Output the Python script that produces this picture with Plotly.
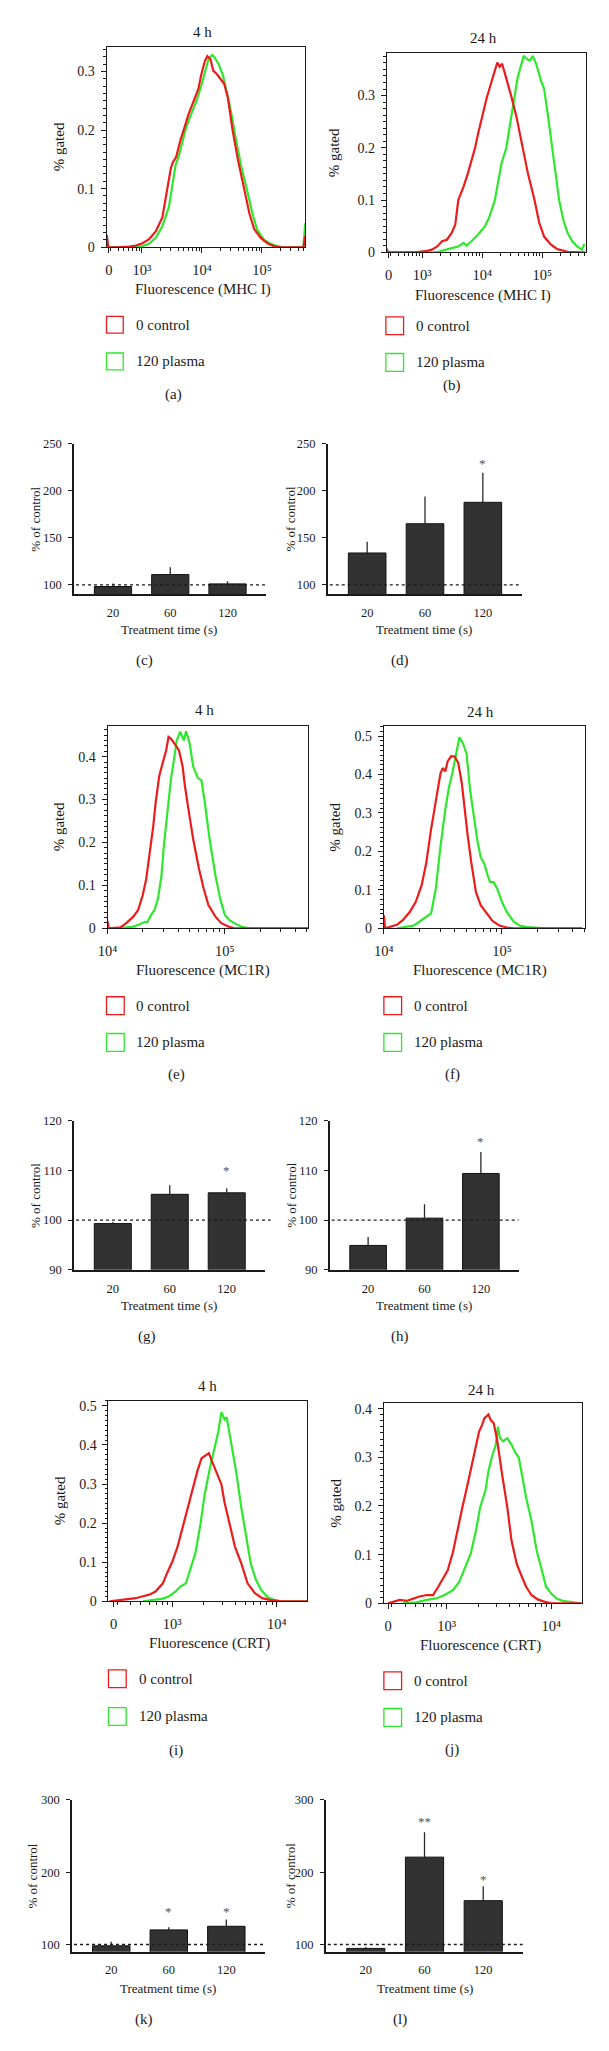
import numpy as np
import plotly.graph_objects as go

W, H = 609, 2051
FONT = "Liberation Serif"
INK = "#1a1a1a"
RED = "#ec1c1c"
GREEN = "#2ee82e"

# ---------------- histogram data: x = log10(fluorescence), y = fraction gated
# (a) MHC I, 4 h
a_ctrl_e = [2.415, 2.44, 2.57, 2.79, 2.90, 3.01, 3.12, 3.23, 3.34, 3.42, 3.48, 3.51, 3.57, 3.64, 3.69, 3.78,
            3.86, 3.94, 3.99, 4.05, 4.09, 4.14, 4.19, 4.25, 4.31, 4.37, 4.43, 4.51, 4.60, 4.70, 4.79, 4.87,
            4.98, 5.09, 5.20, 5.31, 5.69, 5.72]
a_ctrl_y = [0.021, 0, 0, 0.001, 0.003, 0.007, 0.014, 0.027, 0.051, 0.100, 0.134, 0.144, 0.154, 0.182, 0.200, 0.228,
            0.249, 0.270, 0.295, 0.318, 0.326, 0.321, 0.301, 0.295, 0.287, 0.279, 0.256, 0.200, 0.149, 0.100, 0.058, 0.031,
            0.016, 0.007, 0.002, 0, 0, 0.019]
a_pls_e = [2.44, 2.79, 3.01, 3.12, 3.23, 3.34, 3.45, 3.50, 3.56, 3.61, 3.67, 3.73, 3.80, 3.91, 3.99, 4.06,
           4.11, 4.17, 4.21, 4.28, 4.35, 4.42, 4.49, 4.57, 4.65, 4.75, 4.84, 4.92, 5.03, 5.14, 5.25, 5.36, 5.69, 5.72]
a_pls_y = [0, 0, 0.002, 0.006, 0.016, 0.036, 0.069, 0.098, 0.140, 0.154, 0.180, 0.202, 0.222, 0.250, 0.276, 0.301,
           0.321, 0.328, 0.324, 0.312, 0.293, 0.262, 0.228, 0.182, 0.140, 0.098, 0.058, 0.030, 0.013, 0.006, 0.002, 0, 0, 0.041]

# (b) MHC I, 24 h
b_ctrl_e = [2.40, 2.43, 2.89, 3.05, 3.16, 3.25, 3.33, 3.41, 3.49, 3.55, 3.60, 3.69, 3.76, 3.82, 3.88, 3.93,
            4.02, 4.07, 4.15, 4.21, 4.25, 4.29, 4.33, 4.38, 4.44, 4.48, 4.57, 4.68, 4.76, 4.87, 4.95, 5.03,
            5.14, 5.25, 5.42, 5.64, 5.71]
b_ctrl_y = [0.008, 0, 0, 0.002, 0.005, 0.011, 0.021, 0.024, 0.037, 0.053, 0.100, 0.126, 0.151, 0.176, 0.200, 0.227,
            0.271, 0.294, 0.325, 0.351, 0.363, 0.355, 0.361, 0.341, 0.319, 0.300, 0.259, 0.200, 0.151, 0.100, 0.056, 0.030,
            0.015, 0.006, 0.001, 0, 0]
b_pls_e = [2.43, 3.22, 3.30, 3.38, 3.49, 3.60, 3.69, 3.74, 3.82, 3.93, 4.04, 4.11, 4.21, 4.26, 4.32, 4.40,
           4.47, 4.54, 4.59, 4.65, 4.69, 4.74, 4.79, 4.84, 4.90, 4.98, 5.03, 5.09, 5.15, 5.21, 5.28, 5.35,
           5.42, 5.50, 5.58, 5.66, 5.70]
b_pls_y = [0, 0, 0.002, 0.005, 0.008, 0.011, 0.018, 0.013, 0.021, 0.034, 0.049, 0.065, 0.100, 0.132, 0.170, 0.200,
           0.246, 0.300, 0.335, 0.360, 0.376, 0.370, 0.367, 0.376, 0.360, 0.328, 0.313, 0.265, 0.214, 0.170, 0.100, 0.062,
           0.037, 0.021, 0.011, 0.005, 0.016]

# (e) MC1R, 4 h
e_ctrl_e = [4.00, 4.01, 4.11, 4.16, 4.22, 4.26, 4.30, 4.33, 4.36, 4.39, 4.41, 4.44, 4.47, 4.50, 4.52, 4.54,
            4.58, 4.61, 4.64, 4.66, 4.69, 4.73, 4.78, 4.82, 4.86, 4.92, 4.97, 5.03, 5.08, 5.71]
e_ctrl_y = [0.017, 0, 0.002, 0.012, 0.027, 0.042, 0.077, 0.115, 0.177, 0.238, 0.292, 0.354, 0.385, 0.415, 0.446, 0.442,
            0.427, 0.414, 0.377, 0.331, 0.277, 0.208, 0.138, 0.092, 0.054, 0.027, 0.012, 0.004, 0, 0]
e_pls_e = [4.08, 4.16, 4.22, 4.27, 4.32, 4.34, 4.37, 4.40, 4.43, 4.46, 4.48, 4.51, 4.54, 4.57, 4.59, 4.62,
           4.65, 4.67, 4.70, 4.73, 4.77, 4.80, 4.83, 4.87, 4.92, 4.96, 5.00, 5.04, 5.08, 5.14, 5.20, 5.71]
e_pls_y = [0, 0.002, 0.004, 0.009, 0.015, 0.014, 0.031, 0.042, 0.069, 0.123, 0.192, 0.269, 0.346, 0.400, 0.438, 0.458,
           0.438, 0.459, 0.431, 0.377, 0.350, 0.345, 0.292, 0.208, 0.123, 0.069, 0.031, 0.019, 0.012, 0.004, 0, 0]

# (f) MC1R, 24 h
f_ctrl_e = [4.00, 4.01, 4.11, 4.16, 4.22, 4.27, 4.32, 4.36, 4.40, 4.44, 4.48, 4.50, 4.52, 4.54, 4.57, 4.60,
            4.63, 4.66, 4.68, 4.71, 4.74, 4.78, 4.82, 4.88, 4.92, 4.98, 5.04, 5.10, 5.68]
f_ctrl_y = [0.034, 0, 0.009, 0.021, 0.043, 0.069, 0.112, 0.172, 0.258, 0.335, 0.404, 0.417, 0.408, 0.434, 0.448, 0.447,
            0.430, 0.378, 0.318, 0.241, 0.172, 0.094, 0.060, 0.034, 0.019, 0.007, 0.002, 0, 0]
f_pls_e = [4.11, 4.19, 4.25, 4.30, 4.36, 4.40, 4.44, 4.48, 4.52, 4.55, 4.58, 4.60, 4.62, 4.64, 4.67, 4.70,
           4.73, 4.76, 4.79, 4.82, 4.85, 4.88, 4.90, 4.93, 4.96, 5.00, 5.04, 5.10, 5.15, 5.21, 5.26, 5.37, 5.68]
f_pls_y = [0, 0.003, 0.007, 0.017, 0.030, 0.039, 0.103, 0.215, 0.309, 0.365, 0.404, 0.438, 0.464, 0.497, 0.481, 0.455,
           0.361, 0.292, 0.232, 0.185, 0.168, 0.137, 0.120, 0.120, 0.103, 0.069, 0.043, 0.017, 0.007, 0.003, 0.002, 0, 0]

# (i) CRT, 4 h
i_ctrl_e = [2.40, 2.47, 2.53, 2.59, 2.65, 2.72, 2.78, 2.84, 2.91, 2.95, 3.00, 3.05, 3.09, 3.14, 3.19, 3.24,
            3.28, 3.31, 3.35, 3.38, 3.42, 3.47, 3.50, 3.55, 3.60, 3.66, 3.72, 3.79, 3.86, 3.94, 4.04, 4.30]
i_ctrl_y = [0, 0.002, 0.004, 0.007, 0.008, 0.013, 0.017, 0.025, 0.046, 0.072, 0.101, 0.139, 0.181, 0.232, 0.282, 0.333,
            0.366, 0.371, 0.379, 0.358, 0.333, 0.299, 0.253, 0.198, 0.139, 0.097, 0.046, 0.021, 0.008, 0.003, 0, 0]
i_pls_e = [2.72, 2.84, 2.91, 2.97, 3.03, 3.08, 3.13, 3.17, 3.22, 3.27, 3.31, 3.36, 3.41, 3.44, 3.47, 3.50,
           3.52, 3.57, 3.61, 3.66, 3.71, 3.75, 3.80, 3.85, 3.91, 3.97, 4.04, 4.30]
i_pls_y = [0, 0.004, 0.007, 0.013, 0.025, 0.038, 0.046, 0.080, 0.122, 0.198, 0.274, 0.341, 0.400, 0.434, 0.484, 0.465,
           0.471, 0.400, 0.333, 0.240, 0.156, 0.097, 0.055, 0.029, 0.011, 0.004, 0, 0]

# (j) CRT, 24 h
j_ctrl_e = [2.44, 2.49, 2.55, 2.62, 2.68, 2.74, 2.81, 2.87, 2.92, 2.96, 3.01, 3.06, 3.10, 3.15, 3.20, 3.25,
            3.28, 3.31, 3.34, 3.36, 3.40, 3.42, 3.45, 3.48, 3.53, 3.58, 3.62, 3.67, 3.72, 3.76, 3.81, 3.87,
            3.94, 4.00, 4.30]
j_ctrl_y = [0, 0.003, 0.007, 0.005, 0.010, 0.014, 0.017, 0.017, 0.034, 0.048, 0.068, 0.105, 0.149, 0.197, 0.244, 0.292,
            0.326, 0.353, 0.367, 0.380, 0.388, 0.377, 0.370, 0.339, 0.265, 0.197, 0.129, 0.081, 0.054, 0.034, 0.017, 0.008,
            0.003, 0, 0]
j_pls_e = [2.58, 2.71, 2.81, 2.90, 2.98, 3.06, 3.12, 3.18, 3.23, 3.28, 3.32, 3.37, 3.40, 3.43, 3.47, 3.49,
           3.51, 3.54, 3.58, 3.62, 3.65, 3.69, 3.72, 3.76, 3.81, 3.86, 3.91, 3.95, 4.00, 4.05, 4.11, 4.19, 4.28]
j_pls_y = [0, 0.002, 0.007, 0.010, 0.017, 0.027, 0.044, 0.075, 0.102, 0.149, 0.197, 0.231, 0.272, 0.299, 0.326, 0.363,
           0.339, 0.333, 0.339, 0.326, 0.312, 0.299, 0.265, 0.217, 0.170, 0.109, 0.068, 0.034, 0.020, 0.010, 0.005, 0.002, 0]

# ---------------- bar data (% of control, mean and upper error)
cats = ["20", "60", "120"]
c_val = [98.2, 110.9, 101.0];  c_err = [3.2, 7.8, 2.9];   c_sig = ["", "", ""];    c_sig_y = [None, None, None]
d_val = [133.9, 165.0, 187.8]; d_err = [11.9, 29.0, 31.4]; d_sig = ["", "", "*"];  d_sig_y = [None, None, 228.8]
g_val = [99.3, 105.2, 105.5];  g_err = [0.3, 1.8, 0.9];   g_sig = ["", "", "*"];   g_sig_y = [None, None, 109.9]
h_val = [94.9, 100.4, 109.4];  h_err = [1.7, 2.8, 4.3];   h_sig = ["", "", "*"];   h_sig_y = [None, None, 115.8]
k_val = [98.2, 120.2, 125.2];  k_err = [5.5, 3.7, 9.2];   k_sig = ["", "*", "*"];  k_sig_y = [None, 145.0, 145.0]
l_val = [94.6, 220.8, 160.6];  l_err = [1.8, 34.4, 19.9]; l_sig = ["", "**", "*"]; l_sig_y = [None, 269.7, 189.6]

legend_names = ["0 control", "120 plasma"]
xt_bi = ["0", "10³", "10⁴", "10⁵"]
xt_mc = ["10⁴", "10⁵"]
xt_crt = ["0", "10³", "10⁴"]

# ---------------- figure
fig = go.Figure()
layout = dict(width=W, height=H, margin=dict(l=0, r=0, t=0, b=0),
              paper_bgcolor="white", plot_bgcolor="white", showlegend=False,
              font=dict(family=FONT, color=INK))
annotations = []
shapes = []


def px(x):
    return x / W


def py(y):
    return 1 - y / H


def text(x, y, s, size=14, angle=0, xanchor="center"):
    annotations.append(dict(x=px(x), y=py(y), xref="paper", yref="paper", text=s, showarrow=False,
                            font=dict(size=size, family=FONT, color=INK), textangle=angle,
                            xanchor=xanchor, yanchor="middle"))


def hist_panel(n, box, xr, ymax, xt_e, xt_t, ctrl, pls, title, title_xy, ytitle_x,
               xtitle, xtitle_xy, leg, label, label_xy):
    l, r, t, b = box
    s = "" if n == 1 else str(n)
    layout["xaxis" + s] = dict(domain=[px(l), px(r)], anchor="y" + s, type="log", range=xr,
                               tickmode="array", tickvals=[10 ** e for e in xt_e], ticktext=xt_t,
                               ticks="outside", ticklen=5, tickwidth=1, tickcolor=INK,
                               showline=True, linecolor=INK, linewidth=1, mirror=True,
                               showgrid=False, zeroline=False, ticklabelstandoff=4,
                               tickfont=dict(size=14.5, family=FONT, color=INK),
                               minor=dict(ticks="outside", ticklen=3, dtick="D1", tickcolor=INK, showgrid=False))
    layout["yaxis" + s] = dict(domain=[py(b), py(t)], anchor="x" + s, range=[0, ymax],
                               tick0=0, dtick=0.1, ticks="outside", ticklen=5, tickwidth=1, tickcolor=INK,
                               showline=True, linecolor=INK, linewidth=1, mirror=True,
                               showgrid=False, zeroline=False, ticklabelstandoff=3,
                               tickfont=dict(size=14, family=FONT, color=INK),
                               minor=dict(ticks="outside", ticklen=2.5, dtick=0.0125, tickcolor=INK, showgrid=False))
    for (xe, yv), col, name in [(pls, GREEN, legend_names[1]), (ctrl, RED, legend_names[0])]:
        fig.add_trace(go.Scatter(x=10 ** np.array(xe), y=yv, mode="lines", name=name,
                                 line=dict(color=col, width=2.2), xaxis="x" + s, yaxis="y" + s))
    text(title_xy[0], title_xy[1], title, 15)
    text(ytitle_x, (t + b) / 2, "% gated", 15, angle=-90)
    text(xtitle_xy[0], xtitle_xy[1], xtitle, 15)
    sq_l, sq, ys, tx = leg
    for yc, col, name in zip(ys, [RED, GREEN], legend_names):
        shapes.append(dict(type="rect", xref="paper", yref="paper", x0=px(sq_l), x1=px(sq_l + sq),
                           y0=py(yc + sq / 2), y1=py(yc - sq / 2), line=dict(color=col, width=1.3),
                           fillcolor="rgba(0,0,0,0)"))
        text(tx, yc, name, 15, xanchor="left")
    text(label_xy[0], label_xy[1], label, 15)


def bar_panel(n, box, yr, yticks, val, err, sig, sig_y, ytitle_x, xtitle_xy, label, label_xy, dot_x1=1.0):
    l, r, t, b = box
    s = str(n)
    layout["xaxis" + s] = dict(domain=[px(l), px(r)], anchor="y" + s, range=[-0.68, 2.67],
                               tickmode="array", tickvals=[0, 1, 2], ticktext=cats, ticks="",
                               showline=True, linecolor=INK, linewidth=1.5, showgrid=False, zeroline=False,
                               ticklabelstandoff=6, tickfont=dict(size=12.5, family=FONT, color=INK))
    layout["yaxis" + s] = dict(domain=[py(b), py(t)], anchor="x" + s, range=yr,
                               tickmode="array", tickvals=yticks, ticks="outside", ticklen=4, tickwidth=1,
                               tickcolor=INK, showline=True, linecolor=INK, linewidth=1.5,
                               showgrid=False, zeroline=False, ticklabelstandoff=4,
                               tickfont=dict(size=12.5, family=FONT, color=INK))
    fig.add_trace(go.Bar(x=[0, 1, 2], y=val, width=0.65, xaxis="x" + s, yaxis="y" + s,
                         marker=dict(color="#323232", line=dict(color="#111111", width=1)),
                         error_y=dict(type="data", array=err, arrayminus=[0] * len(err), symmetric=False,
                                      thickness=1.3, width=0, color="#2a2a2a")))
    shapes.append(dict(type="line", xref="x%s domain" % s, yref="y" + s, x0=0.01, x1=dot_x1, y0=100, y1=100,
                       line=dict(color=INK, width=1.3, dash="dot")))
    for i, (sg, sy) in enumerate(zip(sig, sig_y)):
        if sg:
            annotations.append(dict(x=i, y=sy, xref="x" + s, yref="y" + s, text=sg, showarrow=False,
                                    font=dict(size=13, family=FONT, color="#555555"), yanchor="middle"))
    text(ytitle_x, (t + b) / 2, "% of control", 13, angle=-90)
    text(xtitle_xy[0], xtitle_xy[1], "Treatment time (s)", 13)
    text(label_xy[0], label_xy[1], label, 15)


hist_panel(1, (90, 292, 32, 234), [2.41, 5.72], 0.342, [2.45, 3, 4, 5], xt_bi, (a_ctrl_e, a_ctrl_y),
           (a_pls_e, a_pls_y), "4 h", (188, 17), 42, "Fluorescence (MHC I)", (188, 277),
           (90, 17, (312, 349), 118), "(a)", (158, 382))
hist_panel(2, (375, 577, 38, 239), [2.41, 5.72], 0.382, [2.44, 3, 4, 5], xt_bi, (b_ctrl_e, b_ctrl_y),
           (b_pls_e, b_pls_y), "24 h", (473, 23), 322, "Fluorescence (MHC I)", (473, 283),
           (374, 18, (313, 350), 403), "(b)", (441, 373))
bar_panel(3, (57, 252, 432, 583.5), [90, 250], [100, 150, 200, 250], c_val, c_err, c_sig, c_sig_y,
          17, (154, 619), "(c)", (129, 650))
bar_panel(4, (315, 512, 432, 583.5), [90, 250], [100, 150, 200, 250], d_val, d_err, d_sig, d_sig_y,
          277, (413, 619), "(d)", (388, 650))
hist_panel(5, (91, 295, 716, 920), [4.0, 5.71], 0.472, [4, 5], xt_mc, (e_ctrl_e, e_ctrl_y),
           (e_pls_e, e_pls_y), "4 h", (190, 700), 42, "Fluorescence (MC1R)", (188, 963),
           (90, 18, (998, 1035), 118), "(e)", (161, 1067))
hist_panel(6, (372, 576, 716, 920), [4.0, 5.7], 0.527, [4, 5], xt_mc, (f_ctrl_e, f_ctrl_y),
           (f_pls_e, f_pls_y), "24 h", (470, 702), 322, "Fluorescence (MC1R)", (470, 963),
           (372, 18, (998, 1035), 401), "(f)", (442, 1067))
bar_panel(7, (57, 251, 1114, 1264), [90, 120], [90, 100, 110, 120], g_val, g_err, g_sig, g_sig_y,
          18, (154, 1300), "(g)", (131, 1331), dot_x1=1.03)
bar_panel(8, (317, 509, 1114, 1264), [90, 120], [90, 100, 110, 120], h_val, h_err, h_sig, h_sig_y,
          278, (413, 1300), "(h)", (388, 1331))
hist_panel(9, (92, 294, 1396, 1598), [2.39, 4.29], 0.513, [2.44, 3, 4], xt_crt, (i_ctrl_e, i_ctrl_y),
           (i_pls_e, i_pls_y), "4 h", (193, 1381), 43, "Fluorescence (CRT)", (195, 1641),
           (92, 18, (1676, 1714), 121), "(i)", (161, 1748))
hist_panel(10, (372, 573, 1398, 1600), [2.40, 4.29], 0.412, [2.44, 3, 4], xt_crt, (j_ctrl_e, j_ctrl_y),
           (j_pls_e, j_pls_y), "24 h", (471, 1385), 323, "Fluorescence (CRT)", (470, 1643),
           (372, 18, (1678, 1715), 401), "(j)", (441, 1747))
bar_panel(11, (55, 251, 1798, 1951), [90, 300], [100, 200, 300], k_val, k_err, k_sig, k_sig_y,
          15, (152, 1988), "(k)", (128, 2019))
bar_panel(12, (313, 513, 1798, 1951), [90, 300], [100, 200, 300], l_val, l_err, l_sig, l_sig_y,
          277, (414, 1988), "(l)", (388, 2019))

layout["annotations"] = annotations
layout["shapes"] = shapes
fig.update_layout(**layout)
fig.write_html("out.html")
